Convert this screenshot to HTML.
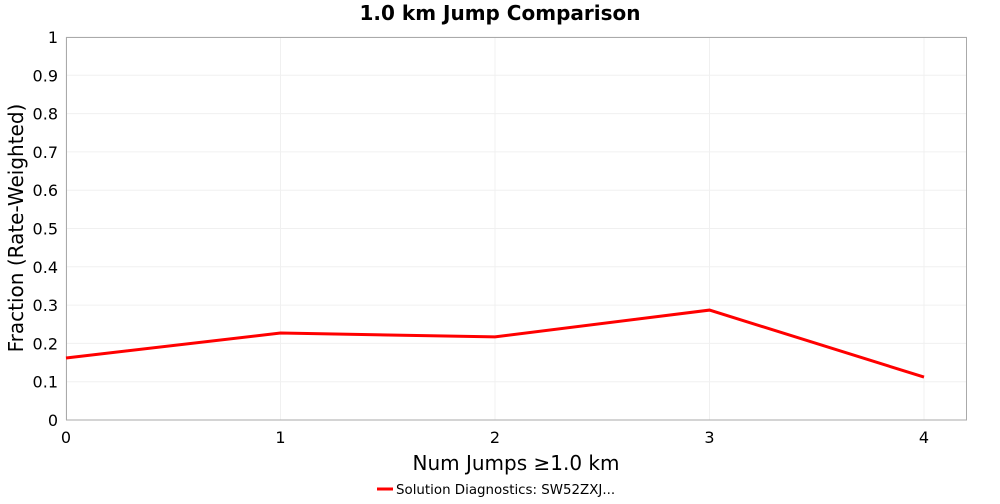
<!DOCTYPE html>
<html><head><meta charset="utf-8"><style>
body{margin:0;background:#fff;font-family:"DejaVu Sans","Liberation Sans",sans-serif}
</style></head><body>
<svg id="c" width="1000" height="500" xmlns="http://www.w3.org/2000/svg">
<text x="500" y="20" text-anchor="middle" font-size="20" font-weight="bold">1.0 km Jump Comparison</text>
<rect x="66" y="37" width="901" height="383" fill="#fff"/>
<g id="grid"></g>
<rect x="66.5" y="37.5" width="900" height="382.5" fill="none" stroke="#aaa"/>
<g id="ticks"></g>
<text x="516" y="470" text-anchor="middle" font-size="20">Num Jumps ≥1.0 km</text>
<text transform="translate(23,228) rotate(-90)" text-anchor="middle" font-size="20">Fraction (Rate-Weighted)</text>
<g>
<line x1="377" y1="489" x2="393" y2="489" stroke="#f00" stroke-width="3"/>
<text x="396" y="494" font-size="13.4">Solution Diagnostics: SW52ZXJ...</text>
</g>
<g id="series"></g>
</svg>
<script>
const xTicks=[0,1,2,3,4];
const yTicks=[0,0.1,0.2,0.3,0.4,0.5,0.6,0.7,0.8,0.9,1];
const xValues=[0,1,2,3,4];
const yValues=[0.162,0.227,0.217,0.287,0.112];
const NS="http://www.w3.org/2000/svg";
const X=v=>66+v*214.5, Y=v=>420-v*383;
const grid=document.getElementById('grid'),ticks=document.getElementById('ticks'),series=document.getElementById('series');
function mk(t,a,p){const e=document.createElementNS(NS,t);for(const k in a)e.setAttribute(k,a[k]);p.appendChild(e);return e;}
yTicks.forEach(v=>{
 const l=mk('line',{x1:66,x2:967,y1:Y(v),y2:Y(v),stroke:'#f0f0f0'},grid);
 
 
 const t=mk('text',{x:58,y:Y(v)+6,'text-anchor':'end','font-size':16},ticks);
 t.textContent=String(v);
 
 
});
xTicks.forEach(v=>{
 const l=mk('line',{x1:X(v),x2:X(v),y1:37,y2:420,stroke:'#f0f0f0'},grid);
 
 
 const t=mk('text',{x:X(v),y:443,'text-anchor':'middle','font-size':16},ticks);
 t.textContent=String(v);
 
 
});
const p=mk('polyline',{points:xValues.map((x,i)=>X(x)+','+Y(yValues[i])).join(' '),fill:'none',stroke:'#f00','stroke-width':3},series);


</script>
</body></html>
